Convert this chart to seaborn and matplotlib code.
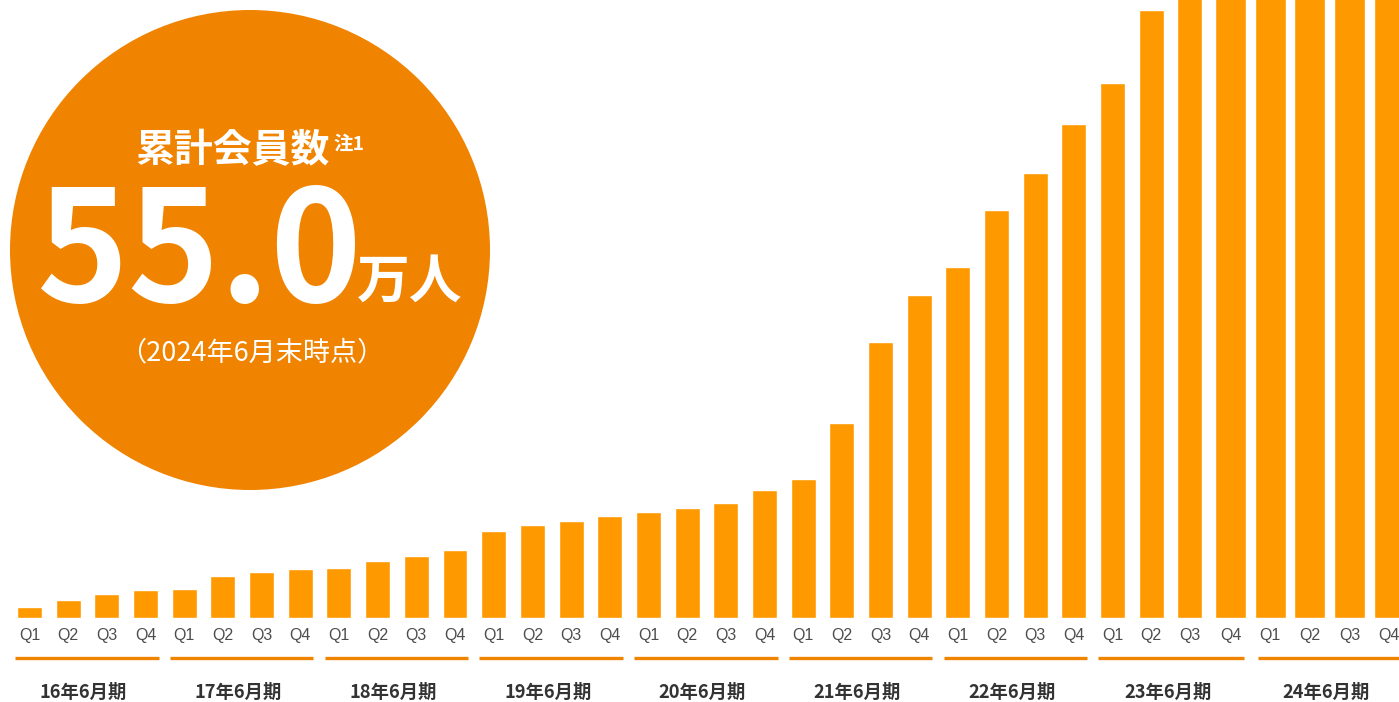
import matplotlib
matplotlib.use("Agg")
import matplotlib.pyplot as plt
import matplotlib.transforms as mtransforms
from matplotlib.patches import Ellipse
import pandas as pd
import seaborn as sns

# Cumulative members (万人) per quarter, fiscal years ending June
years = ["16年6月期", "17年6月期", "18年6月期", "19年6月期", "20年6月期",
         "21年6月期", "22年6月期", "23年6月期", "24年6月期"]
quarters = ["Q1", "Q2", "Q3", "Q4"]
members = [0.67, 1.10, 1.46, 1.71,
           1.77, 2.56, 2.81, 2.99,
           3.05, 3.48, 3.78, 4.15,
           5.31, 5.67, 5.92, 6.22,
           6.47, 6.71, 7.02, 7.81,
           8.48, 11.90, 16.84, 19.70,
           21.41, 24.89, 27.15, 30.13,
           32.64, 37.09, 40.20, 43.10,
           46.20, 49.30, 52.20, 55.00]
headline_value = "55.0"
headline_title = "累計会員数"
headline_note = "注1"
headline_unit = "万人"
headline_date = "（2024年6月末時点）"

BAR = "#FF9900"
DARK = "#F08300"

df = pd.DataFrame({
    "slot": list(range(len(members))),
    "quarter": [q for _ in years for q in quarters],
    "members": members,
})

sns.set_theme(style="white")
plt.rcParams["font.family"] = ["Noto Sans CJK JP", "DejaVu Sans"]

fig = plt.figure(figsize=(13.99, 7.02), dpi=100)
base_px = 618
ax = fig.add_axes([0, (702 - base_px) / 702, 1, base_px / 702])

sns.barplot(data=df, x="slot", y="members", color=BAR, saturation=1,
            width=0.646, ax=ax, order=df["slot"].tolist())

# the latest quarters are drawn wider and spaced slightly further apart
n_wide = 5
tick_pos = list(df["slot"].astype(float))
for k, p in enumerate(ax.patches[-n_wide:]):
    shift = 0.05 + 0.025 * k
    cx = p.get_x() + p.get_width() / 2 + shift
    p.set_width(0.8)
    p.set_x(cx - 0.4)
    tick_pos[len(members) - n_wide + k] = cx

ax.set_xlim(-0.763, 35.405)
ax.set_ylim(0, 37.7)
for s in ax.spines.values():
    s.set_visible(False)
ax.set_yticks([])
ax.set_xlabel("")
ax.set_ylabel("")
ax.set_xticks(tick_pos)
ax.set_xticklabels(df["quarter"], fontsize=11.5, color="#4d4d4d",
                   family=["Liberation Sans", "DejaVu Sans"])
ax.tick_params(axis="x", length=0, pad=7)

# fiscal-year brackets and labels
tr = mtransforms.blended_transform_factory(ax.transData, fig.transFigure)
for g, name in enumerate(years):
    x0 = tick_pos[g * 4] - 0.37
    x1 = tick_pos[g * 4 + 3] + 0.34
    if g == len(years) - 1:
        x0 = tick_pos[g * 4] - 0.31
        x1 = 35.5
    ax.plot([x0, x1], [1 - 658 / 702] * 2, color=DARK, lw=2.4,
            transform=tr, clip_on=False, solid_capstyle="butt")
    xc = (tick_pos[g * 4] + tick_pos[g * 4 + 3]) / 2 - 0.1
    ax.text(xc, 1 - 692 / 702, name, transform=tr, ha="center",
            va="center", fontsize=13.2, fontweight="bold", color="#333333")

# headline badge
fig.patches.append(Ellipse((250 / 1399, 1 - 250 / 702), 480 / 1399, 480 / 702,
                           transform=fig.transFigure, facecolor=DARK,
                           edgecolor="none", zorder=0))
fig.text(232 / 1399, 1 - 151 / 702, headline_title, ha="center", va="center",
         fontsize=28, fontweight="bold", color="white")
fig.text(333 / 1399, 1 - 144 / 702, headline_note, ha="left", va="center",
         fontsize=14, fontweight="bold", color="white")
fig.text(200 / 1399, 1 - 256 / 702, headline_value, ha="center", va="center",
         fontsize=112, fontweight="bold", color="white")
fig.text(410 / 1399, 1 - 282 / 702, headline_unit, ha="center", va="center",
         fontsize=38, fontweight="bold", color="white")
fig.text(252 / 1399, 1 - 353 / 702, headline_date, ha="center", va="center",
         fontsize=19.5, color="white")

fig.savefig("out.png", dpi=100)
